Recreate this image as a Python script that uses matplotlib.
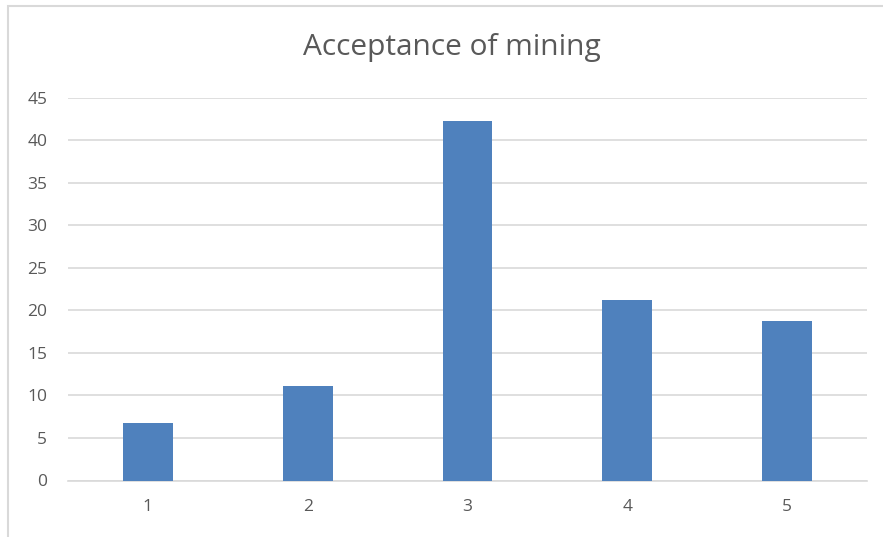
import matplotlib
matplotlib.use('Agg')
import matplotlib.pyplot as plt
from matplotlib.patches import Rectangle

# Data
categories = ['1', '2', '3', '4', '5']
values = [6.8, 11.1, 42.2, 21.2, 18.7]
yticks = [0, 5, 10, 15, 20, 25, 30, 35, 40, 45]

text_color = '#595959'
grid_color = '#d9d9d9'
bar_color = '#4f81bd'

plt.rcParams['font.family'] = ['Open Sans', 'DejaVu Sans']

fig = plt.figure(figsize=(8.83, 5.37), dpi=100)
ax = fig.add_axes([68/883, 1 - 480.5/537, (867 - 68)/883, (480.5 - 97.5)/537])

# Chart frame (only top and left edges visible in the reference)
fig.patches.append(Rectangle((8/883, -0.1), 1.1, 1 - 6/537 + 0.1,
                             transform=fig.transFigure, fill=False,
                             edgecolor='#d9d9d9', linewidth=1.5))

x = range(len(categories))
ax.bar(x, values, width=0.3125, color=bar_color, zorder=3)

ax.set_xlim(-0.5, len(categories) - 0.5)
ax.set_ylim(0, 45)
ax.set_yticks(yticks)
ax.set_xticks(list(x))
ax.set_xticklabels(categories)
ax.grid(axis='y', color=grid_color, linewidth=1.2, zorder=0)
ax.tick_params(axis='both', length=0, labelsize=12.5, colors=text_color)
ax.tick_params(axis='y', pad=15)
ax.tick_params(axis='x', pad=13)
for s in ['top', 'right', 'left']:
    ax.spines[s].set_visible(False)
ax.spines['bottom'].set_color(grid_color)
ax.spines['bottom'].set_linewidth(1.2)

fig.text(452/883, 1 - 48/537, 'Acceptance of mining', ha='center', va='center',
         fontsize=21.5, color=text_color)

fig.savefig('out.png', dpi=100)
